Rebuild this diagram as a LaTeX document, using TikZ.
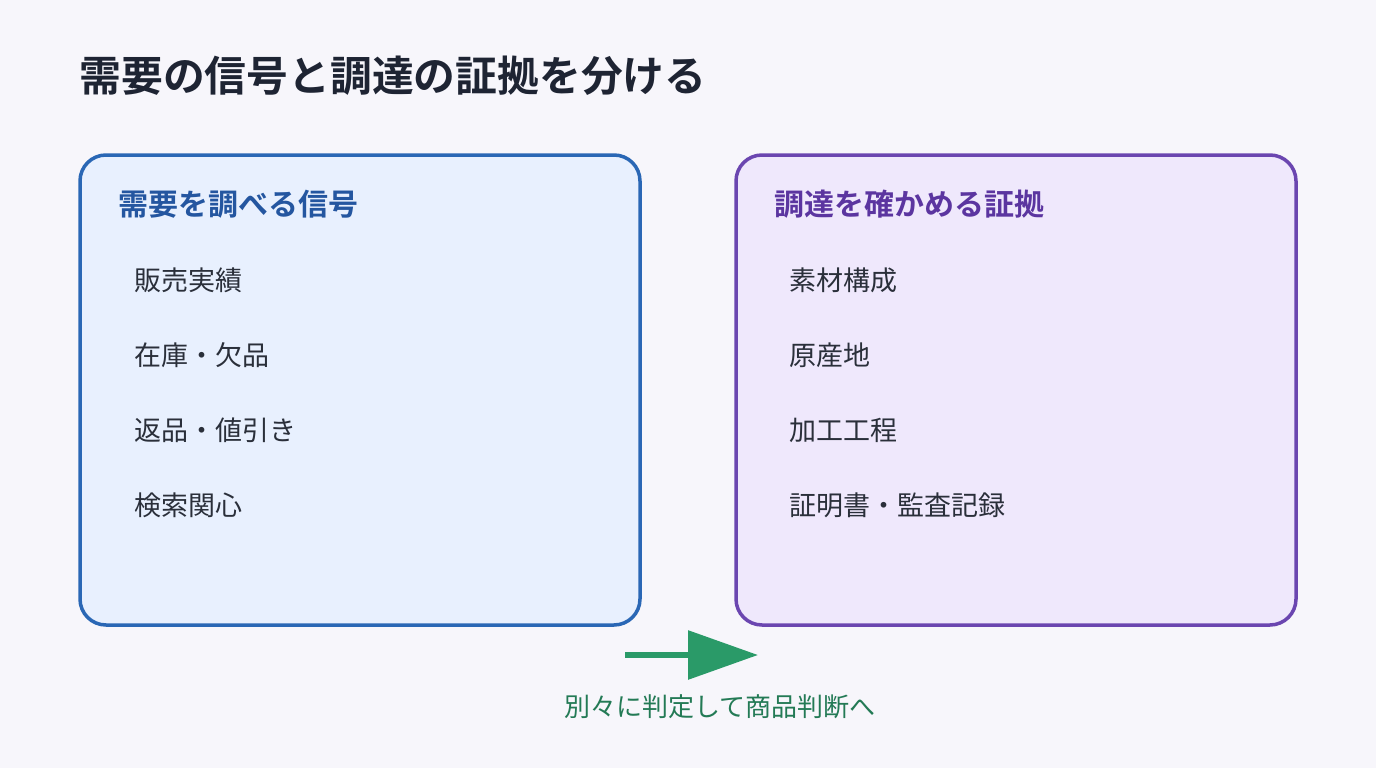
\documentclass[tikz,border=0pt]{standalone}
\usepackage{fontspec}
\setmainfont{Noto Sans CJK JP}[BoldFont={* Bold}]
\usetikzlibrary{positioning,arrows.meta}
\definecolor{bgc}{HTML}{F7F6FB}
\definecolor{titlec}{HTML}{1E2433}
\definecolor{bluefill}{HTML}{E8F0FE}
\definecolor{blueline}{HTML}{2A67B5}
\definecolor{bluehead}{HTML}{2456A0}
\definecolor{purplefill}{HTML}{EFE8FC}
\definecolor{purpleline}{HTML}{6B46B0}
\definecolor{purplehead}{HTML}{5B35A0}
\definecolor{arrowc}{HTML}{2A9A68}
\definecolor{capc}{HTML}{237A55}
\definecolor{itemc}{HTML}{2A2F3A}
\begin{document}
\begin{tikzpicture}[x=1pt,y=-1pt,
	box/.style={rounded corners=26pt,line width=3.5pt},
	head/.style={anchor=west,font=\bfseries\fontsize{30}{36}\selectfont},
	item/.style={anchor=west,text=itemc,font=\fontsize{27}{32}\selectfont}]
	\fill[bgc] (0,0) rectangle (1376,768);
	\node[anchor=west,text=titlec,font=\bfseries\fontsize{41.8}{50}\selectfont] (title) at (76,76) {需要の信号と調達の証拠を分ける};
	% demand box
	\draw[box,draw=blueline,fill=bluefill] (80,155) rectangle (640,625);
	\node[head,text=bluehead] (dhead) at (115,204) {需要を調べる信号};
	\node[item] (d1) at (131,280) {販売実績};
	\node[item] (d2) at (131,355) {在庫・欠品};
	\node[item] (d3) at (131,430) {返品・値引き};
	\node[item] (d4) at (131,505) {検索関心};
	% procurement box
	\draw[box,draw=purpleline,fill=purplefill] (736,155) rectangle (1296,625);
	\node[head,text=purplehead] (phead) at (771,204) {調達を確かめる証拠};
	\node[item] (p1) at (786,280) {素材構成};
	\node[item] (p2) at (786,355) {原産地};
	\node[item] (p3) at (786,430) {加工工程};
	\node[item] (p4) at (786,505) {証明書・監査記録};
	% arrow
	\coordinate (a0) at (625,655);
	\coordinate (a1) at (758,655);
	\draw[arrowc,line width=6pt,-{Triangle[length=70pt,width=48pt]}] (a0) -- (a1);
	\node[text=capc,font=\fontsize{26}{31}\selectfont] (cap) at (720,707) {別々に判定して商品判断へ};
\end{tikzpicture}
\end{document}
